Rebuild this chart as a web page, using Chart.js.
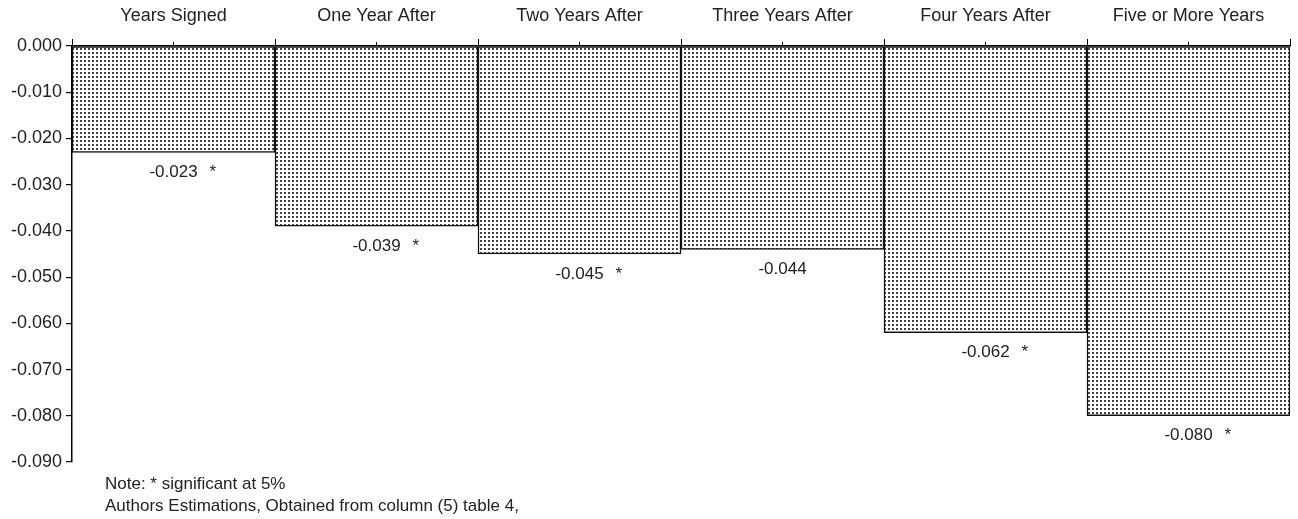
<!DOCTYPE html>
<html>
<head>
<meta charset="utf-8">
<script src="https://cdn.jsdelivr.net/npm/chart.js@4"></script>
<style>
  body { margin: 0; background: #fff; }
  #wrap { width: 1298px; height: 519px; }
</style>
</head>
<body>
<div id="wrap"><canvas id="chart" width="1298" height="519"></canvas></div>
<script>
// Data -----------------------------------------------------------------------------------

var categories = ['Years Signed', 'One Year After', 'Two Years After', 'Three Years After', 'Four Years After', 'Five or More Years'];
var effects = [-0.023, -0.039, -0.045, -0.044, -0.062, -0.080];
var significant = [true, true, true, false, true, true];
var notes = ['Note: * significant at 5%', 'Authors Estimations, Obtained from column (5) table 4,'];

// Constants ------------------------------------------------------------------------------

var FONT = 'Liberation Sans, Arial, sans-serif';
var FONT_SIZE = 17;
var AXIS_FONT_SIZE = 18;
var TEXT_COLOR = '#222';

// Functions ------------------------------------------------------------------------------

function makeDotPattern() {
    var tile = document.createElement('canvas');
    tile.width = 4;
    tile.height = 4;
    var c = tile.getContext('2d');
    c.fillStyle = '#ffffff';
    c.fillRect(0, 0, 4, 4);
    c.fillStyle = '#444444';
    c.fillRect(0, 0, 2, 2);
    return document.getElementById('chart').getContext('2d').createPattern(tile, 'repeat');
}

var annotations = {
    id: 'annotations',
    afterDatasetsDraw: function (chart) {
        var ctx = chart.ctx;
        var meta = chart.getDatasetMeta(0);
        var xs = chart.scales.x;
        ctx.save();
        ctx.fillStyle = TEXT_COLOR;
        ctx.font = FONT_SIZE + 'px ' + FONT;
        ctx.textBaseline = 'middle';
        meta.data.forEach(function (bar, i) {
            var txt = effects[i].toFixed(3);
            var y = bar.y + 20;
            ctx.textAlign = 'center';
            ctx.fillText(txt, bar.x, y);
            if (significant[i]) {
                var w = ctx.measureText(txt).width;
                ctx.textAlign = 'left';
                ctx.fillText('*', bar.x + w / 2 + 12, y);
            }
        });
        // small ticks at the category centres on the top axis
        ctx.strokeStyle = '#000';
        ctx.lineWidth = 1;
        meta.data.forEach(function (bar) {
            ctx.beginPath();
            ctx.moveTo(bar.x, xs.bottom);
            ctx.lineTo(bar.x, xs.bottom - 4);
            ctx.stroke();
        });
        ctx.textAlign = 'left';
        ctx.fillText(notes[0], 105, 484);
        ctx.fillText(notes[1], 105, 506);
        ctx.restore();
    }
};

function initChart() {
    var context = document.getElementById('chart').getContext('2d');
    new Chart(context, {
        type: 'bar',
        data: {
            labels: categories,
            datasets: [{
                data: effects,
                backgroundColor: makeDotPattern(),
                borderColor: '#111',
                borderWidth: 1.5,
                borderSkipped: false,
                categoryPercentage: 1.0,
                barPercentage: 1.0
            }]
        },
        options: {
            responsive: false,
            animation: false,
            layout: { padding: { left: 0, right: 8, top: 0, bottom: 57 } },
            plugins: { legend: { display: false }, tooltip: { enabled: false } },
            scales: {
                x: {
                    position: 'top',
                    afterFit: function (s) { s.height = 46; },
                    grid: { drawOnChartArea: false, offset: true, tickLength: 7, color: '#000', lineWidth: 1 },
                    border: { color: '#000', width: 1.5 },
                    ticks: { color: TEXT_COLOR, font: { family: FONT, size: AXIS_FONT_SIZE }, padding: 12 }
                },
                y: {
                    min: -0.09,
                    max: 0,
                    afterFit: function (s) { s.width = 72; },
                    grid: { drawOnChartArea: false, tickLength: 6, color: '#000', lineWidth: 1.2 },
                    border: { color: '#000', width: 1.5 },
                    ticks: {
                        stepSize: 0.01,
                        color: TEXT_COLOR,
                        font: { family: FONT, size: AXIS_FONT_SIZE },
                        padding: 4,
                        callback: function (v) { return v.toFixed(3); }
                    }
                }
            }
        },
        plugins: [annotations]
    });
}

initChart();
</script>
</body>
</html>
